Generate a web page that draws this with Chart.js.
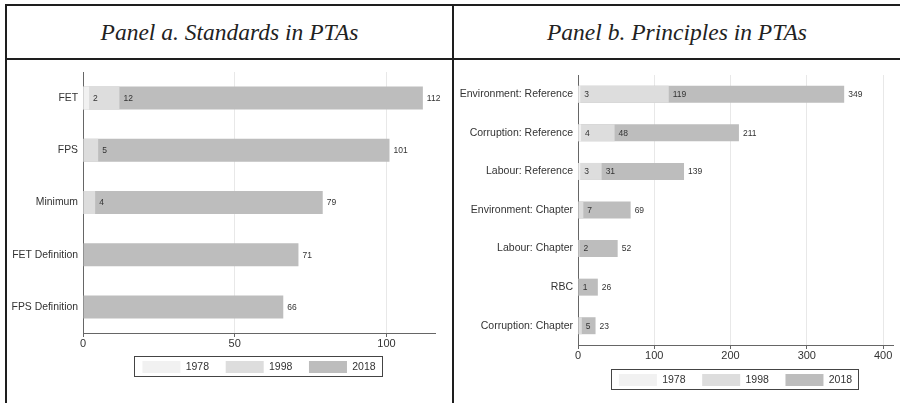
<!DOCTYPE html>
<html>
<head>
<meta charset="utf-8">
<script src="https://cdn.jsdelivr.net/npm/chart.js@4.4.1/dist/chart.umd.min.js"></script>
<style>
  html, body { margin: 0; padding: 0; background: #fff; }
  #page { position: relative; width: 900px; height: 403px; overflow: hidden; background: #fff; }
  .rule { position: absolute; background: #1e1e1e; }
  .title {
    position: absolute; top: 6px; height: 52px; line-height: 52px; text-align: center;
    font-family: 'Liberation Serif', 'Times New Roman', serif; font-style: italic;
    font-size: 23.5px; color: #222;
  }
  canvas { position: absolute; top: 60px; }
</style>
</head>
<body>
<div id="page">
  <div class="rule" style="left:5px; top:4px; width:895px; height:2px;"></div>
  <div class="rule" style="left:5px; top:58px; width:895px; height:2px;"></div>
  <div class="rule" style="left:5px; top:4px; width:2px; height:399px;"></div>
  <div class="rule" style="left:452px; top:4px; width:2px; height:399px;"></div>
  <div class="title" style="left:7px; width:445px;">Panel a. Standards in PTAs</div>
  <div class="title" style="left:454px; width:446px;">Panel b. Principles in PTAs</div>
  <canvas id="panelA" width="445" height="343" style="left:7px;"></canvas>
  <canvas id="panelB" width="445" height="343" style="left:455px;"></canvas>
</div>
<script>
// Panel a data (bars overlap: each year is a cumulative count)
const YEARS = ['1978', '1998', '2018'];
const PANEL_A_CATEGORIES = ['FET', 'FPS', 'Minimum', 'FET Definition', 'FPS Definition'];
const PANEL_A_1978 = [2, 0, 0, 0, 0];
const PANEL_A_1998 = [12, 5, 4, 0, 0];
const PANEL_A_2018 = [112, 101, 79, 71, 66];
const PANEL_A_TICKS = [0, 50, 100];

// Panel b data
const PANEL_B_CATEGORIES = [
  'Environment: Reference', 'Corruption: Reference', 'Labour: Reference',
  'Environment: Chapter', 'Labour: Chapter', 'RBC', 'Corruption: Chapter'
];
const PANEL_B_1978 = [3, 4, 3, 0, 0, 0, 0];
const PANEL_B_1998 = [119, 48, 31, 7, 2, 1, 5];
const PANEL_B_2018 = [349, 211, 139, 69, 52, 26, 23];
const PANEL_B_TICKS = [0, 100, 200, 300, 400];

const YEAR_COLORS = ['#f1f1f1', '#dddddd', '#bdbdbd'];
const FONT = "'Liberation Sans', Arial, sans-serif";

// value labels just right of each bar end
const barValueLabels = {
  id: 'barValueLabels',
  afterDatasetsDraw(chart) {
    const ctx = chart.ctx;
    ctx.save();
    ctx.font = '8.5px ' + FONT;
    ctx.fillStyle = '#333';
    ctx.textAlign = 'left';
    ctx.textBaseline = 'middle';
    chart.data.datasets.forEach((ds, i) => {
      const meta = chart.getDatasetMeta(i);
      meta.data.forEach((bar, j) => {
        const v = ds.data[j];
        if (!v) return;
        ctx.fillText(String(v), bar.x + 4, bar.y + 0.5);
      });
    });
    ctx.restore();
  }
};

// thin frame around the legend, like the Stata legend box
const legendFrame = {
  id: 'legendFrame',
  afterDraw(chart) {
    const hb = chart.legend && chart.legend.legendHitBoxes;
    if (!hb || !hb.length) return;
    const first = hb[0], last = hb[hb.length - 1];
    const ctx = chart.ctx;
    ctx.save();
    ctx.strokeStyle = '#444';
    ctx.lineWidth = 1;
    const left = Math.round(first.left - 8) + 0.5;
    const right = Math.round(last.left + last.width + 6) + 0.5;
    const top = Math.round(first.top - 5) + 0.5;
    const bottom = Math.round(first.top + first.height + 3) + 0.5;
    ctx.strokeRect(left, top, right - left, bottom - top);
    ctx.restore();
  }
};

function makePanel(canvasId, categories, v1978, v1998, v2018, ticks, xMax, opts) {
  const ctx = document.getElementById(canvasId).getContext('2d');
  const series = [v1978, v1998, v2018];
  return new Chart(ctx, {
    type: 'bar',
    data: {
      labels: categories,
      datasets: YEARS.map((y, i) => ({
        label: y,
        data: series[i],
        backgroundColor: YEAR_COLORS[i],
        borderWidth: 0,
        grouped: false,
        categoryPercentage: 1,
        barPercentage: 0.44,
      })),
    },
    options: {
      indexAxis: 'y',
      responsive: false,
      animation: false,
      devicePixelRatio: 1,
      layout: { padding: opts.padding },
      plugins: {
        tooltip: { enabled: false },
        legend: {
          position: 'bottom',
          fullSize: false,
          labels: {
            boxWidth: 38,
            boxHeight: 12,
            padding: 5,
            color: '#333',
            font: { size: 10.5, family: FONT },
            // trailing spaces give the wider gap between legend keys
            generateLabels: (chart) => {
              const items = Chart.defaults.plugins.legend.labels.generateLabels(chart);
              items.forEach((it, k) => { if (k < items.length - 1) it.text += '    '; });
              return items;
            },
          },
        },
      },
      scales: {
        x: {
          min: 0,
          max: xMax,
          afterBuildTicks: (scale) => { scale.ticks = ticks.map(v => ({ value: v })); },
          afterFit: (scale) => { scale.height = opts.xHeight; },
          grid: {
            color: (c) => (c.tick && c.tick.value === 0 ? 'rgba(0,0,0,0)' : '#e8e8e8'),
            tickColor: '#666',
            tickLength: 4,
          },
          border: { color: '#666', width: 1 },
          ticks: {
            padding: 0,
            color: '#333',
            font: { size: 11, family: FONT },
            maxRotation: 0,
          },
        },
        y: {
          afterFit: (scale) => { scale.width = opts.yWidth; },
          grid: { display: true, drawOnChartArea: false, drawTicks: false },
          border: { color: '#666', width: 1 },
          ticks: {
            padding: 5,
            color: '#333',
            font: { size: opts.catFont, family: FONT },
            autoSkip: false,
          },
        },
      },
    },
    plugins: [barValueLabels, legendFrame],
  });
}

makePanel('panelA', PANEL_A_CATEGORIES, PANEL_A_1978, PANEL_A_1998, PANEL_A_2018, PANEL_A_TICKS, 116,
  { padding: { top: 12, right: 17, bottom: 20, left: 0 }, yWidth: 76, xHeight: 23, catFont: 10.4 });
makePanel('panelB', PANEL_B_CATEGORIES, PANEL_B_1978, PANEL_B_1998, PANEL_B_2018, PANEL_B_TICKS, 413,
  { padding: { top: 15, right: 7, bottom: 7, left: 0 }, yWidth: 123, xHeight: 24, catFont: 10.5 });
</script>
</body>
</html>
